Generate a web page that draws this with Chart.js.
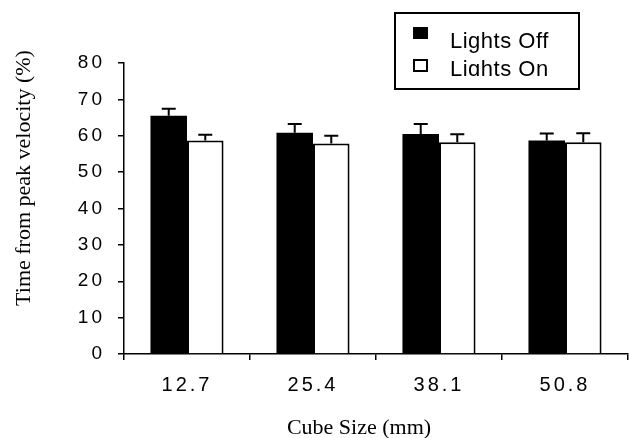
<!DOCTYPE html>
<html lang="en">
<head>
<meta charset="utf-8">
<title>Time from peak velocity</title>
<script src="https://cdn.jsdelivr.net/npm/chart.js@4.4.1/dist/chart.umd.min.js"></script>
<style>
  body { margin: 0; background: #fff; }
  canvas { display: block; }
</style>
</head>
<body>
<canvas id="myChart" width="630" height="438"></canvas>
<script>
'use strict';

// ******* DATA *******
let cubeSizes = ['12.7', '25.4', '38.1', '50.8'];
let lightsOff = [65.5, 60.8, 60.5, 58.7];
let lightsOffErr = [1.9, 2.4, 2.7, 1.9];
let lightsOn = [58.7, 57.9, 58.2, 58.2];
let lightsOnErr = [1.6, 2.1, 2.2, 2.5];
let yTicks = [0, 10, 20, 30, 40, 50, 60, 70, 80];

let yTitle = 'Time from peak velocity (%)';
let xTitle = 'Cube Size (mm)';

// ******* DOM REFERENCES *********
let canvasElem = document.getElementById('myChart').getContext('2d');

// ****** HELPER PLUGINS ******

// tick labels in the picture are spaced out a bit
let tickSpacing = { x: '3px', y: '3px' };

let spacingPlugin = {
  id: 'spacing',
  beforeDraw(chart) {
    for (let id of ['x', 'y']) {
      let sc = chart.scales[id];
      if (sc._spaced) continue;
      let orig = sc.drawLabels.bind(sc);
      sc.drawLabels = function (area) {
        sc.ctx.save();
        sc.ctx.letterSpacing = tickSpacing[id];
        orig(area);
        sc.ctx.restore();
      };
      sc._spaced = true;
    }
  }
};

// upward error bars with a cap
let errorBarPlugin = {
  id: 'errorBars',
  afterDatasetsDraw(chart) {
    let ctx = chart.ctx;
    let yScale = chart.scales.y;
    chart.data.datasets.forEach((ds, i) => {
      let meta = chart.getDatasetMeta(i);
      meta.data.forEach((bar, j) => {
        let top = yScale.getPixelForValue(ds.data[j] + ds.errors[j]);
        ctx.save();
        ctx.strokeStyle = '#000';
        ctx.lineWidth = 2;
        ctx.beginPath();
        ctx.moveTo(bar.x, bar.y);
        ctx.lineTo(bar.x, top);
        ctx.moveTo(bar.x - 7, top);
        ctx.lineTo(bar.x + 7, top);
        ctx.stroke();
        ctx.restore();
      });
    });
  }
};

// legend box and axis titles
let decorPlugin = {
  id: 'decor',
  afterDraw(chart) {
    let ctx = chart.ctx;
    let sets = chart.data.datasets;

    ctx.save();
    ctx.strokeStyle = '#000';
    ctx.lineWidth = 2;
    ctx.strokeRect(395, 13, 184, 76);

    ctx.fillStyle = '#000';
    ctx.fillRect(413, 27, 15, 12);
    ctx.strokeRect(414, 60, 13, 11);

    ctx.font = '22px "Liberation Sans", Arial, sans-serif';
    ctx.letterSpacing = '0.5px';
    ctx.textBaseline = 'alphabetic';
    ctx.textAlign = 'left';
    ctx.fillText(sets[0].label, 450, 47.5);
    ctx.beginPath();
    ctx.rect(440, 50, 130, 26);
    ctx.clip();
    ctx.fillText(sets[1].label, 450, 75.5);
    ctx.restore();

    ctx.save();
    ctx.fillStyle = '#000';
    ctx.font = '22px "Liberation Serif", "Times New Roman", serif';
    ctx.textAlign = 'center';
    ctx.textBaseline = 'alphabetic';
    ctx.fillText(xTitle, 359, 434);
    ctx.translate(30, 178);
    ctx.rotate(-Math.PI / 2);
    ctx.fillText(yTitle, 0, 0);
    ctx.restore();
  }
};

// ********* CHART **********

let myChartObj = {
  type: 'bar',
  data: {
    labels: cubeSizes,
    datasets: [{
      label: 'Lights Off',
      data: lightsOff,
      errors: lightsOffErr,
      backgroundColor: '#000',
      borderColor: '#000',
      borderWidth: 0
    },
    {
      label: 'Lights On',
      data: lightsOn,
      errors: lightsOnErr,
      backgroundColor: '#fff',
      borderColor: '#000',
      borderWidth: 2
    }]
  },
  options: {
    responsive: false,
    animation: false,
    events: [],
    layout: { padding: { top: 63, right: 2, left: 0, bottom: 0 } },
    datasets: {
      bar: { categoryPercentage: 0.58, barPercentage: 1.0 }
    },
    plugins: {
      legend: { display: false },
      tooltip: { enabled: false }
    },
    scales: {
      x: {
        afterFit(scale) { scale.height = 84; },
        border: { color: '#000', width: 1.5 },
        grid: { drawOnChartArea: false, color: '#000', lineWidth: 1.5, tickLength: 6 },
        ticks: {
          color: '#000',
          padding: 13,
          font: { family: '"Liberation Sans", Arial, sans-serif', size: 20 }
        }
      },
      y: {
        min: 0,
        max: 80,
        afterFit(scale) { scale.width = 124; },
        afterBuildTicks(scale) { scale.ticks = yTicks.map(v => ({ value: v })); },
        border: { color: '#000', width: 1.5 },
        grid: { drawOnChartArea: false, color: '#000', lineWidth: 1.5, tickLength: 6 },
        ticks: {
          color: '#000',
          padding: 13,
          font: { family: '"Liberation Sans", Arial, sans-serif', size: 19 }
        }
      }
    }
  },
  plugins: [spacingPlugin, errorBarPlugin, decorPlugin]
};

new Chart(canvasElem, myChartObj);
</script>
</body>
</html>
